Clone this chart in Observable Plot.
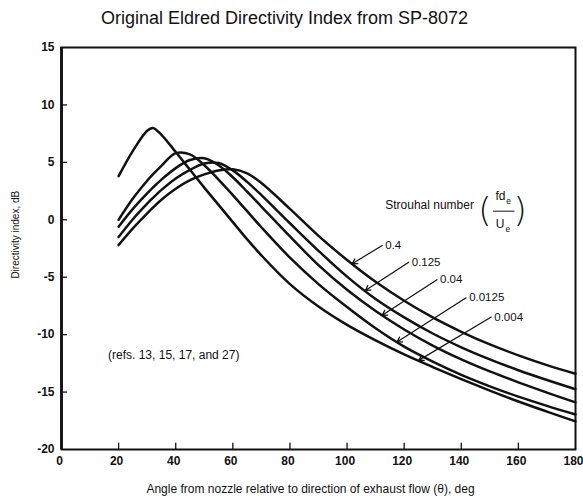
<!DOCTYPE html>
<html>
<head>
<meta charset="utf-8">
<script src="https://cdn.jsdelivr.net/npm/d3@7"></script>
<script src="https://cdn.jsdelivr.net/npm/@observablehq/plot@0.6"></script>
<style>
  html, body { margin: 0; padding: 0; background: #fff; }
  #title { height: 36px; font: 18px "Liberation Sans", Arial, sans-serif; line-height: 36px; text-align: center; padding-right: 14px; color: #111; }
  #chart svg { display: block; }
</style>
</head>
<body>
<div id="title">Original Eldred Directivity Index from SP-8072</div>
<div id="chart"></div>
<script>
// Angle grid (deg) at which the curves were read
const angles = [20,25,30,32,35,40,45,50,55,60,65,70,80,90,100,110,120,130,140,150,160,170,180];
// Directivity index (dB) per Strouhal number
const di_0004  = [3.8,6.0,7.75,8.0,7.4,5.9,4.35,2.8,1.3,-0.2,-1.7,-3.1,-5.6,-7.55,-9.15,-10.5,-11.72,-12.82,-13.87,-14.87,-15.82,-16.7,-17.55];
const di_00125 = [0.0,1.85,3.4,3.95,4.7,5.8,5.7,4.75,3.5,2.15,0.75,-0.65,-3.3,-5.6,-7.6,-9.45,-11.05,-12.35,-13.5,-14.5,-15.4,-16.2,-16.95];
const di_004   = [-0.6,0.95,2.3,2.8,3.5,4.5,5.2,5.35,4.75,3.7,2.45,1.15,-1.45,-3.95,-6.1,-7.95,-9.55,-10.95,-12.15,-13.2,-14.15,-15.05,-15.9];
const di_0125  = [-1.5,0.05,1.4,1.9,2.6,3.6,4.35,4.9,4.95,4.3,3.3,2.15,-0.3,-2.7,-4.95,-6.9,-8.5,-9.9,-11.1,-12.15,-13.1,-13.95,-14.75];
const di_04    = [-2.2,-0.75,0.55,1.05,1.75,2.7,3.45,3.95,4.3,4.4,4.05,3.2,0.95,-1.4,-3.5,-5.4,-7.05,-8.5,-9.75,-10.85,-11.8,-12.65,-13.4];
const strouhal = ["0.004","0.0125","0.04","0.125","0.4"];
const seriesValues = [di_0004, di_00125, di_004, di_0125, di_04];

// Axis ticks
const xTicks = [0,20,40,60,80,100,120,140,160,180];
const yTicks = [-20,-15,-10,-5,0,5,10,15];

// Curve labels with arrows (data coordinates)
const labelText  = ["0.4","0.125","0.04","0.0125","0.004"];
const arrowFromX = [112.3,121.6,131.5,141.7,150.5];
const arrowFromY = [-2.23,-3.69,-5.22,-6.79,-8.47];
const arrowToX   = [101.8,106.4,112.3,117.5,125.1];
const arrowToY   = [-3.83,-6.15,-8.32,-10.65,-12.24];

const rows = [];
strouhal.forEach((s, i) => angles.forEach((a, j) => rows.push({st: s, angle: a, di: seriesValues[i][j]})));
const arrows = labelText.map((t, i) => ({t, x1: arrowFromX[i], y1: arrowFromY[i], x2: arrowToX[i], y2: arrowToY[i]}));

const ink = "#111";
const font = "'Liberation Sans', Arial, sans-serif";

const chart = Plot.plot({
  width: 583,
  height: 466,
  marginLeft: 61,
  marginRight: 8,
  marginTop: 11,
  marginBottom: 53,
  style: {fontFamily: font, fontSize: "12px", color: ink, background: "#fff"},
  x: {domain: [0, 180]},
  y: {domain: [-20, 15]},
  marks: [
    Plot.axisX(xTicks, {tickSize: 0, tickPadding: 7, dx: -2, label: null, fontSize: 12, fontWeight: "bold", tickFormat: d => String(d)}),
    Plot.axisY(yTicks, {tickSize: 0, tickPadding: 7, label: null, fontSize: 12, fontWeight: "bold", tickFormat: d => String(d)}),
    Plot.ruleX(xTicks.slice(1, -1), {x: d => d, y1: -20, y2: -19.45, stroke: ink, strokeWidth: 1.3}),
    Plot.ruleY(yTicks.slice(1, -1), {y: d => d, x1: 0, x2: 2.1, stroke: ink, strokeWidth: 1.3}),
    Plot.frame({stroke: ink, strokeWidth: 2}),
    Plot.ruleX([0], {stroke: ink, strokeWidth: 2.8}),
    Plot.line(rows, {x: "angle", y: "di", z: "st", stroke: ink, strokeWidth: 2.5, curve: "catmull-rom"}),
    Plot.arrow(arrows, {x1: "x1", y1: "y1", x2: "x2", y2: "y2", stroke: ink, strokeWidth: 1.2, headLength: 7, bend: 0}),
    Plot.text(arrows, {x: "x1", y: "y1", text: "t", textAnchor: "start", dx: 3, fontSize: 11.5, fill: ink}),
    Plot.text(["Strouhal number"], {x: 128.9, y: 1.25, text: d => d, fontSize: 12, fill: ink}),
    Plot.text(["("], {x: 148.3, y: 0.73, text: d => d, fontSize: 34, fontFamily: "DejaVu Sans", fontWeight: 200, fill: ink}),
    Plot.text([")"], {x: 160.6, y: 0.73, text: d => d, fontSize: 34, fontFamily: "DejaVu Sans", fontWeight: 200, fill: ink}),
    Plot.text(["fd"], {x: 153.7, y: 2.05, text: d => d, fontSize: 12, fill: ink}),
    Plot.text(["e"], {x: 156.6, y: 1.6, text: d => d, fontSize: 8.5, fill: ink}),
    Plot.ruleY([0.75], {x1: 151.3, x2: 158.8, stroke: ink, strokeWidth: 1}),
    Plot.text(["U"], {x: 153.6, y: -0.35, text: d => d, fontSize: 12, fill: ink}),
    Plot.text(["e"], {x: 156.3, y: -0.8, text: d => d, fontSize: 8.5, fill: ink}),
    Plot.text(["(refs. 13, 15, 17, and 27)"], {x: 39.3, y: -11.75, text: d => d, fontSize: 12, fill: ink}),
    Plot.text(["Directivity index, dB"], {x: 0, y: -1.3, dx: -46, rotate: -90, text: d => d, fontSize: 10, fill: ink}),
    Plot.text(["Angle from nozzle relative to direction of exhaust flow (θ), deg"], {frameAnchor: "bottom", dy: 43, dx: -8, text: d => d, fontSize: 12, fill: ink})
  ]
});
document.getElementById("chart").appendChild(chart);
</script>
</body>
</html>
